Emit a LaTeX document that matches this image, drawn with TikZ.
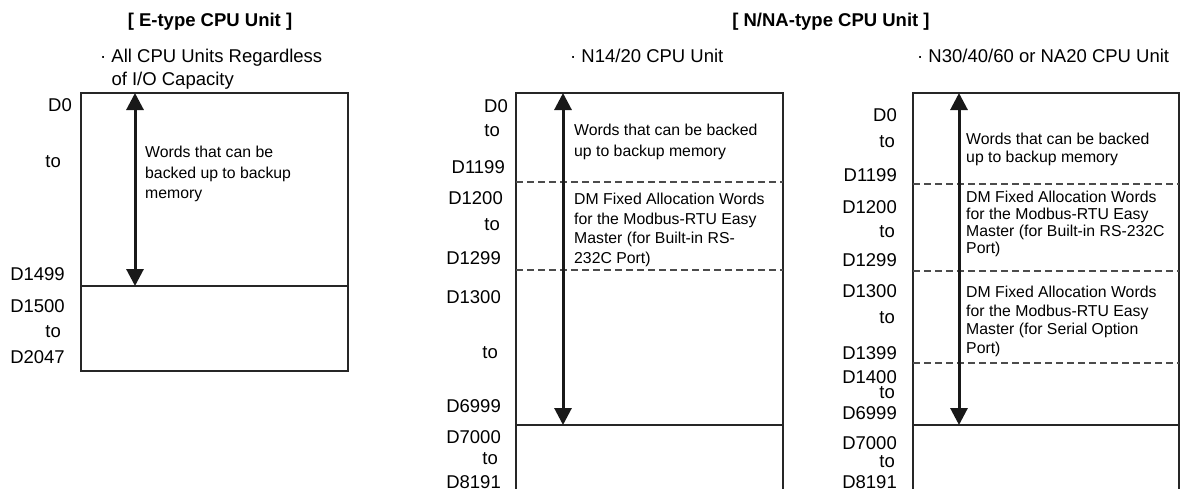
\documentclass[tikz,border=0pt]{standalone}
\usepackage{fontspec}
\setmainfont{Liberation Sans}
\usetikzlibrary{arrows.meta}

\begin{document}
\begin{tikzpicture}[x=1pt,y=-1pt,
  lbl/.style={font=\fontsize{18.5}{22}\selectfont,inner sep=0pt,anchor=east},
  ttl/.style={font=\fontsize{18.5}{22}\selectfont\bfseries,inner sep=0pt},
  subttl/.style={font=\fontsize{18.5}{23}\selectfont,inner sep=0pt,anchor=north west,align=left},
  memo/.style={font=\fontsize{15.8}{20.5}\selectfont,inner sep=0pt,anchor=north west,align=left},
  wall/.style={line width=1.2pt,draw=black!85},
  divline/.style={line width=1.1pt,draw=black!70,dash pattern=on 7pt off 4pt},
  bkarrow/.style={line width=3pt,draw=black!90,
    {Triangle[length=17pt,width=17pt]}-{Triangle[length=17pt,width=17pt]}}]
  \useasboundingbox (0,0) rectangle (1182,488); % 画像全体の範囲
  \clip (0,0) rectangle (1182,488); % 下端ではみ出す枠を切り取る

  % 見出し
  \node[ttl] (eTitle) at (210,22) {[ E-type CPU Unit ]};
  \node[ttl] (nTitle) at (831,22) {[ N/NA-type CPU Unit ]};
  \node[subttl] (eSub) at (100,49) {· All CPU Units Regardless\\\phantom{·\ }of I/O Capacity};
  \node[subttl] (nSub) at (570,49) {· N14/20 CPU Unit};
  \node[subttl] (rSub) at (917,49) {· N30/40/60 or NA20 CPU Unit};

  % E形：メモリマップの枠と境界
  \draw[wall] (81,93) rectangle (348,371);
  \draw[wall] (81,286) -- (348,286);
  \foreach \x/\y/\t [count=\i] in {72/105/D0,61/162/to,65/274/D1499,65/306/D1500,61/332/to,65/357/D2047}
    \node[lbl] (e\i) at (\x,\y) {\t};
  \coordinate (eTop) at (135,93);
  \coordinate (eEnd) at (135,286);
  \draw[bkarrow] (eTop) -- (eEnd); % バックアップ可能な範囲
  \node[memo] (eWords) at (145,146) {Words that can be\\backed up to backup\\memory};

  % N14/20：枠は画像の下端まで続く
  \draw[wall] (516,93) rectangle (783,500);
  \draw[divline] (516,182) -- (783,182);
  \draw[divline] (516,270) -- (783,270);
  \draw[wall] (516,425) -- (783,425);
  \foreach \x/\y/\t [count=\i] in {508/106/D0,500/131/to,505/167/D1199,503/198/D1200,500/225/to,501/258/D1299,
      501/297/D1300,498/353/to,501/406/D6999,501/437/D7000,498/459/to,501/482/D8191}
    \node[lbl] (n\i) at (\x,\y) {\t};
  \coordinate (nTop) at (563,93);
  \coordinate (nEnd) at (563,425);
  \draw[bkarrow] (nTop) -- (nEnd);
  \node[memo] (nWords) at (574,124) {Words that can be backed\\up to backup memory};
  \node[memo,font=\fontsize{15.8}{19.5}\selectfont] (nModA) at (574,193)
    {DM Fixed Allocation Words\\for the Modbus-RTU Easy\\Master (for Built-in RS-\\232C Port)};

  % N30/40/60・NA20：シリアルオプションポートの領域が加わる
  \draw[wall] (913,93) rectangle (1179,500);
  \draw[divline] (913,184) -- (1179,184);
  \draw[divline] (913,271) -- (1179,271);
  \draw[divline] (913,363) -- (1179,363);
  \draw[wall] (913,425) -- (1179,425);
  \foreach \x/\y/\t [count=\i] in {897/115/D0,895/142/to,897/175/D1199,897/207/D1200,895/232/to,897/260/D1299,
      897/291/D1300,895/318/to,897/353/D1399,897/377/D1400,895/393/to,897/413/D6999,
      897/443/D7000,895/462/to,897/482/D8191}
    \node[lbl] (r\i) at (\x,\y) {\t};
  \coordinate (rTop) at (959,93);
  \coordinate (rEnd) at (959,425);
  \draw[bkarrow] (rTop) -- (rEnd);
  \node[memo,font=\fontsize{15.8}{18}\selectfont] (rWords) at (966,133) {Words that can be backed\\up to backup memory};
  \node[memo,font=\fontsize{15.8}{17}\selectfont] (rModA) at (966,191)
    {DM Fixed Allocation Words\\for the Modbus-RTU Easy\\Master (for Built-in RS-232C\\Port)};
  \node[memo,font=\fontsize{15.8}{18.5}\selectfont] (rModB) at (966,286)
    {DM Fixed Allocation Words\\for the Modbus-RTU Easy\\Master (for Serial Option\\Port)};
\end{tikzpicture}
\end{document}
